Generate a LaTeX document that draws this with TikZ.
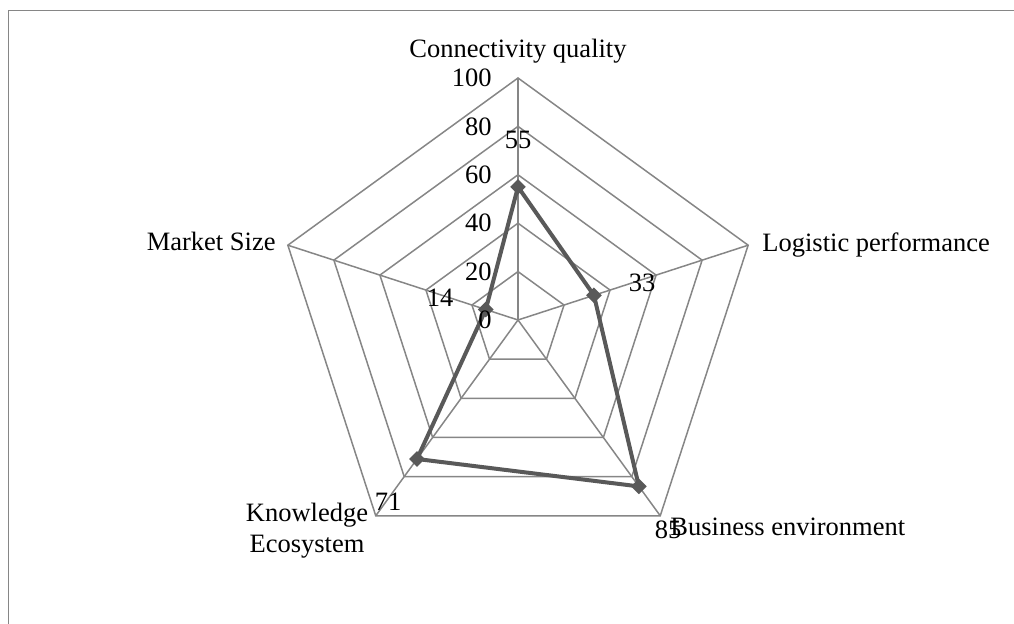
\documentclass[tikz,border=0pt]{standalone}
\usepackage{fontspec}
\setmainfont{Liberation Serif}
\usetikzlibrary{shapes.geometric}

\definecolor{gridgray}{HTML}{868686}
\definecolor{seriesgray}{HTML}{595959}

\tikzset{
	gridline/.style = {draw=gridgray, line width=0.75pt},
	seriesline/.style = {draw=seriesgray, line width=2pt, line join=round},
	marker/.style = {diamond, fill=seriesgray, inner sep=0pt, minimum size=8pt},
	ticklabel/.style = {anchor=east, inner sep=0pt},
	valuelabel/.style = {inner sep=0pt},
	catlabel/.style = {inner sep=0pt}
}

\begin{document}
\begin{tikzpicture}[x=0.5pt, y=0.5pt, font=\fontsize{13.25}{15.5}\selectfont]
		\useasboundingbox (0,0) rectangle (1014,624);
		\draw [gridline] (8.5,-5) -- (8.5,613.5) -- (1020,613.5);
		
		% axes of the radar
		\coordinate (c) at (518,304);
		\foreach \a/\n in {90/conn, 18/logi, -54/busi, -126/know, 162/mark}
			\coordinate (\n) at ([shift={(c)}]\a:242);
		
		\foreach \r in {48.4, 96.8, 145.2, 193.6, 242}
			\draw [gridline] ([shift={(c)}]90:\r) -- ([shift={(c)}]18:\r) -- ([shift={(c)}]-54:\r)
				-- ([shift={(c)}]-126:\r) -- ([shift={(c)}]162:\r) -- cycle;
		\foreach \n in {conn, logi, busi, know, mark}
			\draw [gridline] (c) -- (\n);
		
		% values: 55, 33, 85, 71, 14
		\coordinate (dconn) at ([shift={(c)}]90:133.1);
		\coordinate (dlogi) at ([shift={(c)}]18:79.86);
		\coordinate (dbusi) at ([shift={(c)}]-54:205.7);
		\coordinate (dknow) at ([shift={(c)}]-126:171.82);
		\coordinate (dmark) at ([shift={(c)}]162:33.88);
		
		\draw [seriesline] (dconn) -- (dlogi) -- (dbusi) -- (dknow) -- (dmark) -- cycle;
		\foreach \n in {conn, logi, busi, know, mark}
			\node [marker] (m\n) at (d\n) {};
		
		% scale
		\node [ticklabel] (t0) at (492,304) {0};
		\node [ticklabel] (t20) at (492,352.4) {20};
		\node [ticklabel] (t40) at (492,400.8) {40};
		\node [ticklabel] (t60) at (492,449.2) {60};
		\node [ticklabel] (t80) at (492,497.6) {80};
		\node [ticklabel] (t100) at (492,546) {100};
		
		\node [valuelabel] (vconn) at (518,484) {55};
		\node [valuelabel] (vlogi) at (642,341) {33};
		\node [valuelabel] (vbusi) at (668,94) {85};
		\node [valuelabel] (vknow) at (388,122) {71};
		\node [valuelabel] (vmark) at (440,326) {14};
		
		\node [catlabel, anchor=base] (lconn) at (518,566) {Connectivity quality};
		\node [catlabel, anchor=base west] (llogi) at (762,372) {Logistic performance};
		\node [catlabel, anchor=base west] (lbusi) at (670,88) {Business environment};
		\node [catlabel, anchor=north, align=center] (lknow) at (307,121) {Knowledge\\Ecosystem};
		\node [catlabel, anchor=base east] (lmark) at (276,373) {Market Size};
		
\end{tikzpicture}
\end{document}
